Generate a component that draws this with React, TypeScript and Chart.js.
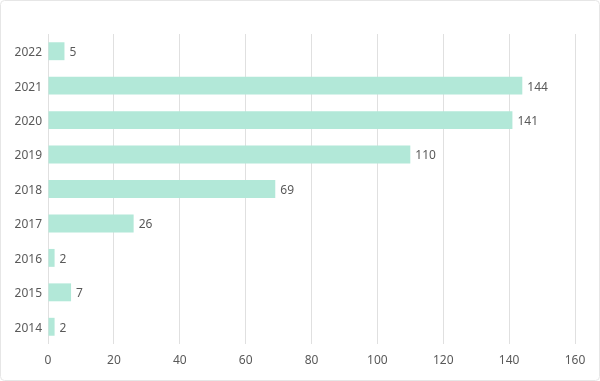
import React, { useEffect, useRef } from "react";
import { Chart, registerables } from "chart.js";

Chart.register(...registerables);

const categories = ["2022", "2021", "2020", "2019", "2018", "2017", "2016", "2015", "2014"];
const values = [5, 144, 141, 110, 69, 26, 2, 7, 2];
const xTicks = [0, 20, 40, 60, 80, 100, 120, 140, 160];

const FONT = "'Noto Sans', 'DejaVu Sans', sans-serif";
const TEXT = "#595959";

const framePlugin = {
  id: "frame",
  beforeDraw(chart: any) {
    const { ctx, width, height } = chart;
    ctx.save();
    ctx.fillStyle = "#ffffff";
    ctx.fillRect(0, 0, width, height);
    ctx.strokeStyle = "#e6e6e6";
    ctx.lineWidth = 1;
    const r = 4;
    const x = 0.5, y = 0.5, w = width - 1, h = height - 1;
    ctx.beginPath();
    ctx.moveTo(x + r, y);
    ctx.lineTo(x + w - r, y);
    ctx.arcTo(x + w, y, x + w, y + r, r);
    ctx.lineTo(x + w, y + h - r);
    ctx.arcTo(x + w, y + h, x + w - r, y + h, r);
    ctx.lineTo(x + r, y + h);
    ctx.arcTo(x, y + h, x, y + h - r, r);
    ctx.lineTo(x, y + r);
    ctx.arcTo(x, y, x + r, y, r);
    ctx.closePath();
    ctx.stroke();
    ctx.restore();
  },
};

const labelPlugin = {
  id: "valueLabels",
  afterDatasetsDraw(chart: any) {
    const { ctx } = chart;
    const meta = chart.getDatasetMeta(0);
    ctx.save();
    ctx.font = `12px ${FONT}`;
    ctx.fillStyle = TEXT;
    ctx.textAlign = "left";
    ctx.textBaseline = "middle";
    meta.data.forEach((bar: any, i: number) => {
      ctx.fillText(String(values[i]), bar.x + 5, bar.y + 1.5);
    });
    ctx.restore();
  },
};

export default function App() {
  const ref = useRef<HTMLCanvasElement | null>(null);
  useEffect(() => {
    document.body.style.margin = "0";
    if (!ref.current) return;
    const chart = new Chart(ref.current, {
      type: "bar",
      data: {
        labels: categories,
        datasets: [
          {
            data: values,
            backgroundColor: "#b2e8d8",
            borderWidth: 0,
            barPercentage: 0.52,
            categoryPercentage: 1,
          },
        ],
      },
      options: {
        indexAxis: "y",
        responsive: false,
        animation: false,
        devicePixelRatio: 1,
        layout: { padding: { top: 34, right: 25, left: 0, bottom: 0 } },
        plugins: { legend: { display: false }, tooltip: { enabled: false } },
        scales: {
          x: {
            min: 0,
            max: 160,
            afterBuildTicks(scale: any) {
              scale.ticks = xTicks.map((v) => ({ value: v }));
            },
            afterFit(scale: any) {
              scale.height = 37;
            },
            grid: { color: "#e0e0e0", drawTicks: false },
            border: { display: false },
            ticks: { padding: 9, color: TEXT, font: { family: FONT, size: 12 } },
          },
          y: {
            afterFit(scale: any) {
              scale.width = 48;
            },
            grid: { display: false, drawTicks: false },
            border: { display: false },
            ticks: {
              padding: 6,
              color: TEXT,
              font: { family: FONT, size: 12 },
              labelOffset: 1.5,
            } as any,
          },
        },
      },
      plugins: [framePlugin, labelPlugin],
    });
    return () => chart.destroy();
  }, []);
  return <canvas ref={ref} width={600} height={381} style={{ display: "block" }} />;
}
